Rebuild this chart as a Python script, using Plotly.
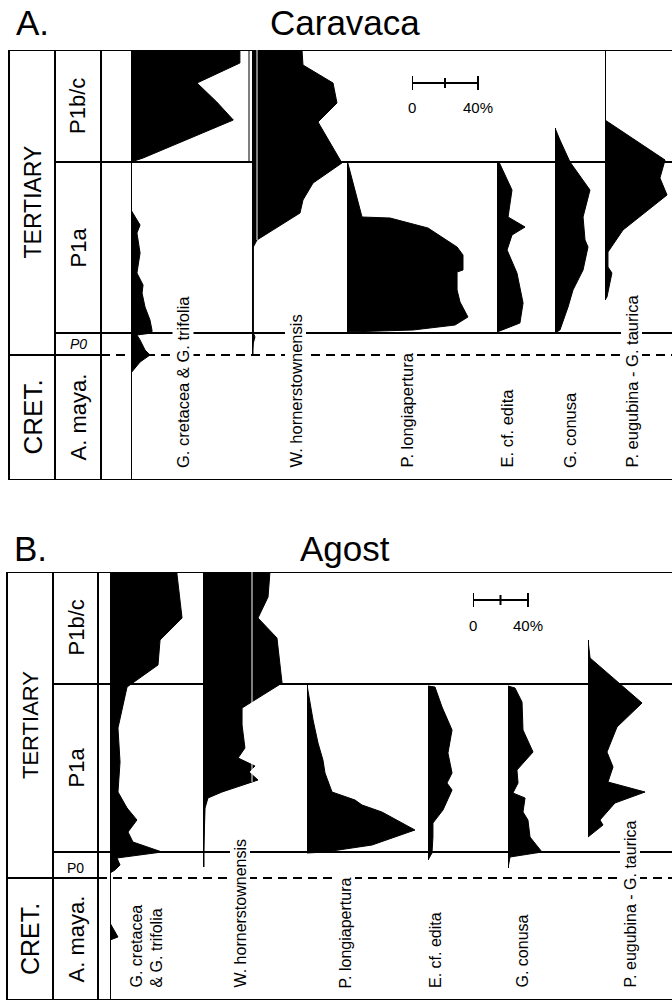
import plotly.graph_objects as go

W, H = 672, 1002
FONT = "Liberation Sans, Arial, Helvetica, sans-serif"

# ------------------------------------------------------------------
# DATA  (level = stratigraphic height relative to the K/T boundary,
#        pct = relative abundance in %)
# ------------------------------------------------------------------
species_a = ["G. cretacea & G. trifolia", "W. hornerstownensis", "P. longiapertura",
             "E. cf. edita", "G. conusa", "P. eugubina - G. taurica"]
species_b = ["G. cretacea<br>& G. trifolia", "W. hornerstownensis", "P. longiapertura",
             "E. cf. edita", "G. conusa", "P. eugubina - G. taurica"]

# --- A. Caravaca ---
a_cret_lvl = [305, 292, 272, 253, 235, 197, 193, 145, 130, 122, 102, 82, 70, 62, 48, 35, 25, 22, 20, 15, 5, 0, -7, -18]
a_cret_pct = [66, 66, 40, 52, 62, 7.3, 0, 0, 5.5, 3.6, 5.5, 3.6, 7.3, 6.7, 8.5, 11.5, 12.7, 12.7, 3.6, 5.5, 8.5, 11.5, 5.5, 0]
a_horn_lvl = [305, 290, 272, 252, 233, 195, 192, 172, 155, 142, 115, 108, 22, 18, 12, 0]
a_horn_pct = [30.3, 30.9, 49.1, 51.5, 40, 53.3, 54.5, 37, 30.9, 29.1, 3, 0.8, 0.8, 1.8, 0.8, 0]
a_longi_lvl = [192, 147, 138, 137, 127, 108, 100, 85, 83, 65, 53, 38, 30, 25, 23]
a_longi_pct = [0.5, 7.9, 9.1, 26.1, 49.1, 66.7, 70.3, 70.3, 66.7, 66.7, 68.5, 73.3, 65.5, 40, 0]
a_edita_lvl = [192, 165, 138, 128, 120, 105, 82, 58, 52, 32, 25, 23]
a_edita_pct = [1.5, 9.1, 6.7, 17, 9.1, 6.1, 12.1, 15.2, 15.8, 13.9, 3.6, 0]
a_conusa_lvl = [227, 215, 193, 165, 138, 115, 108, 85, 65, 48, 25, 22]
a_conusa_pct = [0, 3, 9.1, 21.2, 17, 18.2, 20, 17, 10.9, 7.9, 3, 0]
a_eug_lvl = [235, 195, 177, 160, 125, 103, 88, 82, 58, 55]
a_eug_pct = [0, 36.4, 33.3, 37.6, 10.9, 1.8, 1.8, 4.2, 1.2, 0]

# --- B. Agost ---
b_cret_lvl = [306, 304, 260, 238, 213, 195, 191, 173, 150, 116, 86, 70, 58, 46, 36, 26, 20, 13, 8, 5, -45, -59, -62]
b_cret_pct = [48.7, 48.7, 52.4, 36.4, 34.9, 16, 12.4, 9.5, 5.8, 7.3, 5.8, 12.4, 19.6, 13.1, 16.7, 37.8, 5.1, 7.3, 3.6, 0, 0, 5.8, 0]
b_horn_lvl = [306, 281, 260, 240, 195, 176, 170, 153, 130, 120, 112, 106, 98, 92, 86, 80, 70, 40, 13]
b_horn_pct = [48.7, 47.3, 40, 53.8, 57.5, 35.6, 28.4, 28.4, 30.5, 25.5, 37.8, 33.5, 40, 26.9, 13.8, 3.6, 1.5, 0.8, 0]
b_longi_lvl = [193, 158, 135, 118, 105, 86, 78, 73, 66, 48, 33, 26, 25]
b_longi_pct = [0, 4.4, 8, 11.6, 13.1, 18.2, 34.9, 40, 54.5, 78.5, 47.3, 13.1, 0]
b_edita_lvl = [192, 191, 171, 148, 125, 105, 95, 88, 68, 55, 41, 25, 18]
b_edita_pct = [0, 5.1, 10.2, 17.5, 14.5, 17.5, 13.8, 17.5, 10.9, 3.6, 3.6, 2.9, 0]
b_conusa_lvl = [192, 190, 176, 148, 126, 108, 95, 85, 80, 66, 58, 41, 26, 21, 10]
b_conusa_pct = [0, 5.1, 10.2, 10.9, 18.2, 6.5, 7.3, 3.6, 12.4, 10.9, 14.5, 16, 24.7, 1.5, 0]
b_eug_lvl = [238, 220, 175, 151, 126, 111, 96, 86, 75, 58, 53, 41]
b_eug_pct = [0, 1.5, 39.3, 21.1, 13.8, 18.2, 14.5, 41.5, 19.6, 8.7, 10.9, 0]

# range (top, bottom level) of each species' occurrence line
a_range = [(305, -125), (305, 0), (193, 22), (193, 22), (227, 22), (305, 55)]
b_range = [(306, -122), (306, 11), (194, 26), (192, 18), (192, 10), (238, 41)]

# biozones: boundaries (levels) top -> bottom
zone_names = ["P1b/c", "P1a", "P0", "A. maya."]
a_zone_bounds = [305, 193, 22, 0, -125]
b_zone_bounds = [306, 194, 26, 0, -122]

scale_ticks = [0, 20, 40]     # scale bar, %

# ------------------------------------------------------------------
# LAYOUT GEOMETRY (pixels)
# ------------------------------------------------------------------
panels = [
    dict(key="A", title="Caravaca", letter="A.", yax="y", ytop=50, ybot=480,
         cols=(9, 55, 101), base=[131, 252, 347, 497, 555, 605], ppp=66 / 40,
         scale_px=412, scale_lvl=272, data=[(a_cret_lvl, a_cret_pct), (a_horn_lvl, a_horn_pct),
         (a_longi_lvl, a_longi_pct), (a_edita_lvl, a_edita_pct), (a_conusa_lvl, a_conusa_pct),
         (a_eug_lvl, a_eug_pct)], ranges=a_range, zb=a_zone_bounds, names=species_a,
         lab_x=[183, 296, 407, 507, 570, 632], lab_bot=470, title_y=22, fs=16.5,
         tert_fs=23, cret_fs=26, p0_y=344,
         white_line=(257, 305, 115), divider=(249, 305, 193), p0_italic=True),
    dict(key="B", title="Agost", letter="B.", yax="y2", ytop=572, ybot=1000,
         cols=(7, 53, 98), base=[110, 203, 307, 428, 508, 588], ppp=55 / 40,
         scale_px=473, scale_lvl=278, data=[(b_cret_lvl, b_cret_pct), (b_horn_lvl, b_horn_pct),
         (b_longi_lvl, b_longi_pct), (b_edita_lvl, b_edita_pct), (b_conusa_lvl, b_conusa_pct),
         (b_eug_lvl, b_eug_pct)], ranges=b_range, zb=b_zone_bounds, names=species_b,
         lab_x=[146, 240, 345, 435, 522, 630], lab_bot=990, title_y=548, fs=16,
         tert_fs=22, cret_fs=25, p0_y=868,
         white_line=(252, 306, 96), divider=None, p0_italic=False),
]


def pxx(x):
    return x / W


def pyy(y):
    return 1 - y / H


fig = go.Figure()
layout = dict(width=W, height=H, margin=dict(l=0, r=0, t=0, b=0),
              paper_bgcolor="white", plot_bgcolor="rgba(0,0,0,0)", showlegend=False)
shapes, annos = [], []
ax_i = 0


def new_xaxis(domain_px, ppp, yax):
    global ax_i
    ax_i += 1
    name = "xaxis" if ax_i == 1 else f"xaxis{ax_i}"
    layout[name] = dict(domain=[pxx(domain_px), 1], range=[0, (W - domain_px) / ppp],
                        anchor=yax, visible=False, fixedrange=True)
    return "x" if ax_i == 1 else f"x{ax_i}"


def txt(text, size, **kw):
    d = dict(text=text, showarrow=False, xanchor="center", yanchor="middle",
             font=dict(family=FONT, size=size, color="black"))
    d.update(kw)
    return d


for p in panels:
    yax = p["yax"]
    yname = "yaxis" if yax == "y" else "yaxis2"
    zb = p["zb"]
    top, bot = zb[0], zb[-1]
    layout[yname] = dict(domain=[pyy(p["ybot"]), pyy(p["ytop"])], range=[bot, top],
                         visible=False, fixedrange=True)
    c0, c1, c2 = p["cols"]
    LW = 2
    # frame horizontal lines
    shapes.append(dict(type="line", xref="paper", yref=yax, x0=pxx(c0), x1=1, y0=top, y1=top, line=dict(width=LW, color="black")))
    shapes.append(dict(type="line", xref="paper", yref=yax, x0=pxx(c0), x1=1, y0=bot, y1=bot, line=dict(width=LW, color="black")))
    for lvl in zb[1:3]:
        shapes.append(dict(type="line", xref="paper", yref=yax, x0=pxx(c1), x1=1, y0=lvl, y1=lvl, line=dict(width=LW, color="black")))
    shapes.append(dict(type="line", xref="paper", yref=yax, x0=pxx(c0), x1=pxx(c2), y0=zb[3], y1=zb[3], line=dict(width=LW, color="black")))
    shapes.append(dict(type="line", xref="paper", yref=yax, x0=pxx(c2), x1=1, y0=zb[3], y1=zb[3], line=dict(width=2, color="black", dash="9px,6px")))
    for c in p["cols"]:
        shapes.append(dict(type="line", xref="paper", yref=yax, x0=pxx(c), x1=pxx(c), y0=bot, y1=top, line=dict(width=LW, color="black")))
    if p["divider"]:
        dx, d0, d1 = p["divider"]
        shapes.append(dict(type="line", xref="paper", yref=yax, x0=pxx(dx), x1=pxx(dx), y0=d0, y1=d1, line=dict(width=1, color="black")))

    # species columns
    for i, ((lvl, pct), (r0, r1)) in enumerate(zip(p["data"], p["ranges"])):
        xa = new_xaxis(p["base"][i], p["ppp"], yax)
        fig.add_trace(go.Scatter(x=pct, y=lvl, xaxis=xa, yaxis=yax, mode="lines",
                                 fill="tozerox", fillcolor="black",
                                 line=dict(color="black", width=1), hoverinfo="skip"))
        shapes.append(dict(type="line", xref=xa, yref=yax, x0=0, x1=0, y0=r0, y1=r1,
                           line=dict(width=3 if i == 1 else 2, color="black")))
        annos.append(txt(p["names"][i], p["fs"], xref="paper", yref="paper", x=pxx(p["lab_x"][i]),
                         y=pyy(p["lab_bot"]), yanchor="bottom", textangle=-90,
                         align="left", bgcolor="white", borderpad=1))
    wx, w0, w1 = p["white_line"]
    shapes.append(dict(type="line", xref="paper", yref=yax, x0=pxx(wx), x1=pxx(wx), y0=w0, y1=w1, line=dict(width=1, color="white")))

    # scale bar
    xs = new_xaxis(p["scale_px"], p["ppp"], yax)
    L = p["scale_lvl"]
    bx, by = [scale_ticks[0], scale_ticks[-1]], [L, L]
    for t in scale_ticks:
        h = 7 if t in (scale_ticks[0], scale_ticks[-1]) else 5
        bx += [None, t, t]
        by += [None, L - h, L + h]
    fig.add_trace(go.Scatter(x=bx, y=by, xaxis=xs, yaxis=yax, mode="lines",
                             line=dict(color="black", width=2), hoverinfo="skip"))
    annos.append(txt("0", 15, xref=xs, yref=yax, x=scale_ticks[0], y=L - 25))
    annos.append(txt(f"{scale_ticks[-1]}%", 15, xref=xs, yref=yax, x=scale_ticks[-1], y=L - 25))

    # zone labels
    mid = lambda a, b: (a + b) / 2
    annos.append(txt("TERTIARY", p["tert_fs"], xref="paper", yref=yax, x=pxx((c0 + c1) / 2),
                     y=mid(zb[0], zb[3]), textangle=-90))
    annos.append(txt("CRET.", p["cret_fs"], xref="paper", yref=yax, x=pxx((c0 + c1) / 2),
                     y=mid(zb[3], zb[4]), textangle=-90))
    for k, nm in enumerate(zone_names):
        if nm == "P0":
            annos.append(txt("<i>P0</i>" if p["p0_italic"] else "P0", 14, xref="paper", yref="paper",
                             x=pxx((c1 + c2) / 2), y=pyy(p["p0_y"])))
        else:
            annos.append(txt(nm, 22, xref="paper", yref=yax, x=pxx((c1 + c2) / 2),
                             y=mid(zb[k], zb[k + 1]), textangle=-90))

    # titles
    annos.append(txt(p["letter"], 35, xref="paper", yref="paper", x=pxx(c0 + 5), y=pyy(p["title_y"]),
                     xanchor="left"))
    annos.append(txt(p["title"], 35, xref="paper", yref="paper", x=pxx(345), y=pyy(p["title_y"])))

layout["shapes"] = shapes
layout["annotations"] = annos
fig.update_layout(**layout)
fig.write_html("out.html")
